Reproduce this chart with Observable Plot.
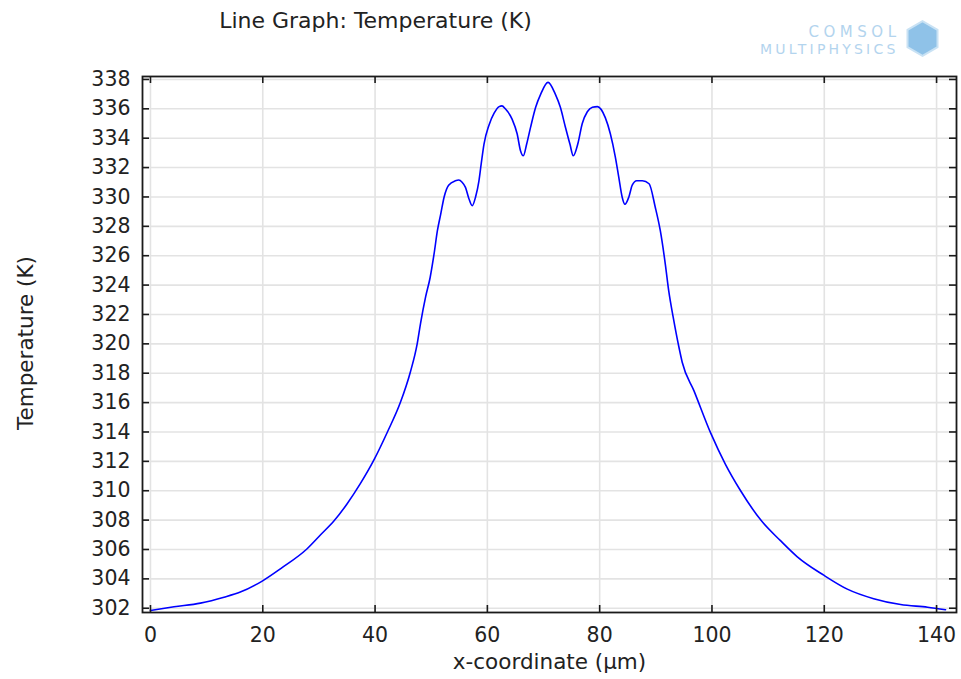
<!DOCTYPE html>
<html><head><meta charset="utf-8">
<script src="https://cdn.jsdelivr.net/npm/d3@7"></script>
<script src="https://cdn.jsdelivr.net/npm/@observablehq/plot@0.6"></script>
<style>
body{margin:0;background:#fff;}
#chart svg{display:block;}
</style></head><body><div id="chart"></div>
<script>
// x-coordinate (µm)
const xCoord = [0, 4.2, 8.9, 13.1, 16.0, 19.9, 23.2, 27.9, 30.3, 32.7, 35.0, 37.4, 39.8, 42.2, 44.5, 46.3, 47.5,
  48.1, 49.0, 49.8, 50.5, 51.1, 51.7, 52.3, 53.1, 54.3, 54.9, 55.5, 56.1, 56.7, 57.3, 57.9, 58.5, 58.9, 59.4,
  60.3, 61.2, 62.1, 62.6, 63.2, 64.4, 65.3, 65.9, 66.4, 67.0, 67.7, 68.6, 69.5, 70.8,
  72.1, 73.0, 73.9, 74.7, 75.3, 76.1, 76.9, 77.8, 78.7, 79.6, 81.0, 81.9, 82.8, 83.4, 84.0, 84.5, 85.2, 85.8,
  86.6, 87.6, 88.8, 89.9, 90.8, 91.7, 92.3, 93.1, 94.1, 94.7, 96.8, 99.8, 102.4, 105.1, 108.7, 112.2, 115.2,
  119.9, 124.1, 128.8, 133.6, 138.4, 141.6];
// Temperature (K)
const temperature = [301.85, 302.1, 302.35, 302.75, 303.1, 303.85, 304.7, 306.05, 307.0, 307.95, 309.1, 310.5, 312.1, 314.0, 316.0, 318.1, 320.0,
  321.4, 323.2, 324.5, 326.1, 327.7, 328.85, 330.0, 330.8, 331.1, 331.15, 331.0, 330.65, 329.9, 329.4, 330.0, 331.1, 332.25, 333.6,
  334.9, 335.7, 336.15, 336.2, 336.0, 335.3, 334.3, 333.15, 332.8, 333.6, 334.75, 336.1, 337.0, 337.8,
  337.0, 336.1, 334.75, 333.6, 332.8, 333.6, 335.0, 335.8, 336.1, 336.15, 335.4, 334.3, 332.7, 331.35, 330.0, 329.5, 330.0, 330.8,
  331.1, 331.1, 330.9, 329.3, 327.7, 325.4, 323.6, 321.8, 319.8, 318.75, 316.8, 313.9, 311.8, 310.0, 308.0, 306.6, 305.5,
  304.25, 303.3, 302.65, 302.25, 302.07, 301.9];
const xTicks = [0, 20, 40, 60, 80, 100, 120, 140];
const yTicks = [302, 304, 306, 308, 310, 312, 314, 316, 318, 320, 322, 324, 326, 328, 330, 332, 334, 336, 338];
const titleText = ["Line Graph: Temperature (K)"];
const xLabelText = ["x-coordinate (µm)"];
const yLabelText = ["Temperature (K)"];
const logoTop = ["COMSOL"];
const logoBottom = ["MULTIPHYSICS"];

const data = xCoord.map((x, i) => ({x, t: temperature[i]}));
const W = 961, H = 679, mL = 142, mR = 5, mT = 76, mB = 67;
const fw = W - mL - mR, fh = H - mT - mB, tk = 7;
const axisColor = "#1a1a1a", gridColor = "#e3e3e3", logoColor = "#b3d4ee";

const chart = Plot.plot({
  width: W, height: H,
  marginLeft: mL, marginRight: mR, marginTop: mT, marginBottom: mB,
  style: {fontFamily: "'DejaVu Sans', sans-serif", fontSize: "20.5px", color: "#222", background: "#fff", overflow: "visible"},
  x: {domain: [-1.42, 143.55]},
  y: {domain: [301.71, 338.2]},
  marks: [
    Plot.gridX(xTicks, {stroke: gridColor, strokeOpacity: 1, strokeWidth: 1.6}),
    Plot.gridY(yTicks, {stroke: gridColor, strokeOpacity: 1, strokeWidth: 1.6}),
    Plot.line(data, {x: "x", y: "t", stroke: "#0000ff", strokeWidth: 1.6, curve: "monotone-x"}),
    Plot.ruleY(yTicks, {insetRight: fw - tk, stroke: axisColor, strokeWidth: 1.6}),
    Plot.ruleY(yTicks, {insetLeft: fw - tk, stroke: axisColor, strokeWidth: 1.6}),
    Plot.ruleX(xTicks, {insetTop: fh - tk, stroke: axisColor, strokeWidth: 1.6}),
    Plot.ruleX(xTicks, {insetBottom: fh - tk, stroke: axisColor, strokeWidth: 1.6}),
    Plot.frame({stroke: axisColor, strokeWidth: 1.8}),
    Plot.axisX(xTicks, {tickSize: 0, tickPadding: 15, label: null, fontSize: 20.5}),
    Plot.axisY(yTicks, {tickSize: 0, tickPadding: 12, label: null, fontSize: 20.5}),
    Plot.text(titleText, {text: d => d, frameAnchor: "top-left", dx: 375 - mL, dy: 27 - mT, lineAnchor: "bottom", textAnchor: "middle", fontSize: 22, fill: "#222"}),
    Plot.text(xLabelText, {text: d => d, frameAnchor: "bottom", dy: 668 - (H - mB), lineAnchor: "bottom", textAnchor: "middle", fontSize: 21.5, fill: "#222"}),
    Plot.text(yLabelText, {text: d => d, frameAnchor: "left", dx: 32 - mL, dy: -1.5, rotate: -90, lineAnchor: "bottom", textAnchor: "middle", fontSize: 21.5, fill: "#222"}),
    Plot.text(logoTop, {text: d => d, frameAnchor: "top-right", dx: 900 - (W - mR), dy: 36 - mT, lineAnchor: "bottom", textAnchor: "end", fontSize: 15, fill: logoColor}),
    Plot.text(logoBottom, {text: d => d, frameAnchor: "top-right", dx: 898 - (W - mR), dy: 53 - mT, lineAnchor: "bottom", textAnchor: "end", fontSize: 14, fill: logoColor}),
    Plot.dot([0], {frameAnchor: "top-right", dx: 922 - (W - mR), dy: 38 - mT, symbol: "hexagon", r: 15, fill: "#8fc2e8", stroke: "#c9e2f4", strokeWidth: 2})
  ]
});
// widen the logo lettering
d3.select(chart).selectAll("text").each(function() {
  const t = this.textContent;
  if (t === logoTop[0]) this.setAttribute("letter-spacing", "4.5");
  if (t === logoBottom[0]) this.setAttribute("letter-spacing", "3.2");
});
document.getElementById("chart").appendChild(chart);
</script>
</body></html>
